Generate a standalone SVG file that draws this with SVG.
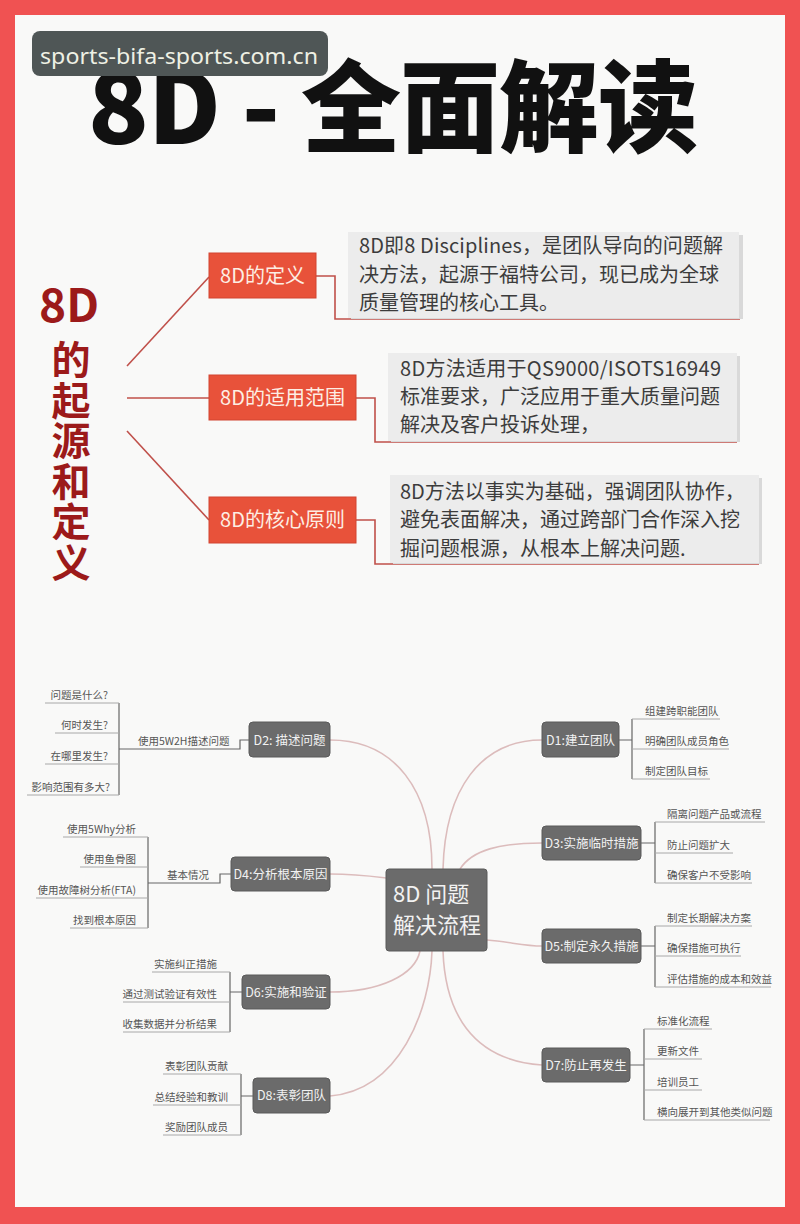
<svg xmlns="http://www.w3.org/2000/svg" width="800" height="1224" viewBox="0 0 800 1224">
<style>
.rbox{fill:#e8523a;stroke:#d24530;stroke-width:1}
.rtxt{font-family:"Noto Sans CJK SC",sans-serif;font-size:20px;fill:#fdeee4;text-anchor:middle}
.tbox{fill:#ececec}
.tshadow{fill:#d9d9d9}
.ttxt{font-family:"Noto Sans CJK SC",sans-serif;font-size:20px;fill:#3c3c3c}
.red{stroke:#c0504a;stroke-width:1.6;fill:none}
.node{fill:#6b6b6b;stroke:#5a5a5a;stroke-width:1}
.ntxt{font-family:"Noto Sans CJK SC",sans-serif;font-size:12.5px;fill:#f2f2f2;text-anchor:middle}
.curve{stroke:#dcbcbc;stroke-width:1.6;fill:none}
.br{stroke:#666;stroke-width:1.2;fill:none}
.ul{stroke:#a8a8a8;stroke-width:1;fill:none}
.ltxt{font-family:"Noto Sans CJK SC",sans-serif;font-size:10.5px;fill:#555}
.end{text-anchor:end}
</style>
<rect x="0" y="0" width="800" height="1224" fill="#f05252"/>
<rect x="15" y="15" width="770" height="1192" fill="#f9f9f8"/>

<g id="title">
<text x="88" y="144" font-family="Noto Sans CJK SC, sans-serif" font-size="100" font-weight="900" fill="#111" textLength="610" lengthAdjust="spacing">8D - 全面解读</text>
</g>
<g id="watermark">
<rect x="32" y="31" width="296" height="45" rx="8" fill="#4f5656"/>
<text x="40" y="64" font-family="Noto Sans, sans-serif" font-size="21" fill="#eef0e4" textLength="278" lengthAdjust="spacingAndGlyphs">sports-bifa-sports.com.cn</text>
</g>

<g id="side-title" font-family="Noto Sans CJK SC, sans-serif" font-weight="700" fill="#9c1a1a">
<text x="69" y="322" font-size="46" text-anchor="middle">8D</text>
<text x="71" y="340" font-size="39" writing-mode="vertical-rl" letter-spacing="1.5">的起源和定义</text>
</g>

<g id="connectors-top">
<path class="red" d="M127,366 L209,277"/>
<path class="red" d="M127,398 L209,398"/>
<path class="red" d="M127,431 L209,520"/>
<path class="red" d="M316,276 H335 V319 H740"/>
<path class="red" d="M356,398 H375 V442 H737"/>
<path class="red" d="M356,520 H375 V564 H759"/>
</g>

<g id="def">
<rect class="rbox" x="209" y="253" width="107" height="45"/>
<text class="rtxt" x="262.5" y="283" textLength="85" lengthAdjust="spacing">8D的定义</text>
</g>
<g id="scope">
<rect class="rbox" x="209" y="375" width="147" height="45"/>
<text class="rtxt" x="282.5" y="405" textLength="125" lengthAdjust="spacing">8D的适用范围</text>
</g>
<g id="principle">
<rect class="rbox" x="209" y="497" width="147" height="46"/>
<text class="rtxt" x="282.5" y="527" textLength="125" lengthAdjust="spacing">8D的核心原则</text>
</g>

<g id="def-text">
<rect class="tshadow" x="351" y="235" width="392" height="84"/>
<rect class="tbox" x="348" y="232" width="391" height="86"/>
<text class="ttxt" x="359" y="253" textLength="364" lengthAdjust="spacing">8D即8 Disciplines，是团队导向的问题解</text>
<text class="ttxt" x="359" y="282">决方法，起源于福特公司，现已成为全球</text>
<text class="ttxt" x="359" y="310">质量管理的核心工具。</text>
</g>
<g id="scope-text">
<rect class="tshadow" x="391" y="356" width="349" height="86"/>
<rect class="tbox" x="388" y="353" width="349" height="88"/>
<text class="ttxt" x="400" y="376" textLength="321" lengthAdjust="spacing">8D方法适用于QS9000/ISOTS16949</text>
<text class="ttxt" x="400" y="404">标准要求，广泛应用于重大质量问题</text>
<text class="ttxt" x="400" y="432">解决及客户投诉处理，</text>
</g>
<g id="principle-text">
<rect class="tshadow" x="393" y="478" width="369" height="86"/>
<rect class="tbox" x="390" y="475" width="369" height="88"/>
<text class="ttxt" x="400" y="499">8D方法以事实为基础，强调团队协作，</text>
<text class="ttxt" x="400" y="527">避免表面解决，通过跨部门合作深入挖</text>
<text class="ttxt" x="400" y="556">掘问题根源，从根本上解决问题.</text>
</g>

<g id="connectors">
<path class="curve" d="M330,740 C395,740 432,790 432,869"/>
<path class="curve" d="M542,740 C480,740 445,790 443,869"/>
<path class="curve" d="M542,843 C500,843 472,850 460,869"/>
<path class="curve" d="M330,874 C355,874 370,876 386,878"/>
<path class="curve" d="M487,940 C510,942 525,946 542,946"/>
<path class="curve" d="M330,992 C380,992 415,975 420,951"/>
<path class="curve" d="M330,1096 C400,1090 430,1010 432,951"/>
<path class="curve" d="M542,1065 C470,1060 445,1010 443,951"/>
</g>

<g id="center">
<rect class="node" x="386" y="869" width="101" height="82" rx="3"/>
<text x="393" y="902" font-family="Noto Sans CJK SC, sans-serif" font-size="22" fill="#f2f2f2">8D 问题</text>
<text x="393" y="933" font-family="Noto Sans CJK SC, sans-serif" font-size="22" fill="#f2f2f2">解决流程</text>
</g>

<g id="d2">
<rect class="node" x="249" y="722" width="81" height="35" rx="4"/>
<text class="ntxt" x="289.5" y="744.5">D2: 描述问题</text>
<path class="br" d="M249,740 H240 V749 H119"/>
<path class="br" d="M119,703 V795"/>
<path class="ul" d="M45,703 H119 M55,733 H119 M45,764 H119 M27,795 H119"/>
<text class="ltxt" x="138" y="745">使用5W2H描述问题</text>
<text class="ltxt end" x="108" y="699">问题是什么?</text>
<text class="ltxt end" x="108" y="729">何时发生?</text>
<text class="ltxt end" x="108" y="760">在哪里发生?</text>
<text class="ltxt end" x="110" y="791">影响范围有多大?</text>
</g>

<g id="d4">
<rect class="node" x="231" y="857" width="99" height="34" rx="4"/>
<text class="ntxt" x="280.5" y="878.5">D4:分析根本原因</text>
<path class="br" d="M231,874 H220 V883 H148"/>
<path class="br" d="M148,837 V928"/>
<path class="ul" d="M63,837 H148 M80,867 H148 M36,898 H148 M70,928 H148"/>
<text class="ltxt" x="167" y="879">基本情况</text>
<text class="ltxt end" x="136" y="833">使用5Why分析</text>
<text class="ltxt end" x="136" y="863">使用鱼骨图</text>
<text class="ltxt end" x="136" y="894">使用故障树分析(FTA)</text>
<text class="ltxt end" x="136" y="924">找到根本原因</text>
</g>

<g id="d1">
<rect class="node" x="542" y="722" width="77" height="35" rx="4"/>
<text class="ntxt" x="580.5" y="744.5">D1:建立团队</text>
<path class="br" d="M619,740 H632 M632,719 V779"/>
<path class="ul" d="M632,719 H720 M632,749 H729 M632,779 H710"/>
<text class="ltxt" x="645" y="715">组建跨职能团队</text>
<text class="ltxt" x="645" y="745">明确团队成员角色</text>
<text class="ltxt" x="645" y="775">制定团队目标</text>
</g>

<g id="d3">
<rect class="node" x="542" y="826" width="99" height="34" rx="4"/>
<text class="ntxt" x="591.5" y="847.5">D3:实施临时措施</text>
<path class="br" d="M641,843 H655 M655,822 V883"/>
<path class="ul" d="M655,822 H765 M655,853 H733 M655,883 H752"/>
<text class="ltxt" x="667" y="818">隔离问题产品或流程</text>
<text class="ltxt" x="667" y="849">防止问题扩大</text>
<text class="ltxt" x="667" y="879">确保客户不受影响</text>
</g>

<g id="d5">
<rect class="node" x="542" y="929" width="99" height="34" rx="4"/>
<text class="ntxt" x="591.5" y="950.5">D5:制定永久措施</text>
<path class="br" d="M641,946 H655 M655,926 V987"/>
<path class="ul" d="M655,926 H752 M655,956 H741 M655,987 H771"/>
<text class="ltxt" x="667" y="922">制定长期解决方案</text>
<text class="ltxt" x="667" y="952">确保措施可执行</text>
<text class="ltxt" x="667" y="983">评估措施的成本和效益</text>
</g>

<g id="d6">
<rect class="node" x="242" y="975" width="88" height="34" rx="4"/>
<text class="ntxt" x="286" y="996.5">D6:实施和验证</text>
<path class="br" d="M242,992 H230 M230,972 V1032"/>
<path class="ul" d="M152,972 H230 M123,1002 H230 M123,1032 H230"/>
<text class="ltxt end" x="217" y="968">实施纠正措施</text>
<text class="ltxt end" x="217" y="998">通过测试验证有效性</text>
<text class="ltxt end" x="217" y="1028">收集数据并分析结果</text>
</g>

<g id="d8">
<rect class="node" x="253" y="1078" width="77" height="35" rx="4"/>
<text class="ntxt" x="291.5" y="1100">D8:表彰团队</text>
<path class="br" d="M253,1096 H241 M241,1074 V1135"/>
<path class="ul" d="M163,1074 H241 M153,1105 H241 M163,1135 H241"/>
<text class="ltxt end" x="228" y="1070">表彰团队贡献</text>
<text class="ltxt end" x="228" y="1101">总结经验和教训</text>
<text class="ltxt end" x="228" y="1131">奖励团队成员</text>
</g>

<g id="d7">
<rect class="node" x="542" y="1048" width="88" height="34" rx="4"/>
<text class="ntxt" x="586" y="1069.5">D7:防止再发生</text>
<path class="br" d="M630,1065 H644 M644,1029 V1120"/>
<path class="ul" d="M644,1029 H712 M644,1059 H702 M644,1090 H702 M644,1120 H770"/>
<text class="ltxt" x="657" y="1025">标准化流程</text>
<text class="ltxt" x="657" y="1055">更新文件</text>
<text class="ltxt" x="657" y="1086">培训员工</text>
<text class="ltxt" x="657" y="1116">横向展开到其他类似问题</text>
</g>
</svg>
